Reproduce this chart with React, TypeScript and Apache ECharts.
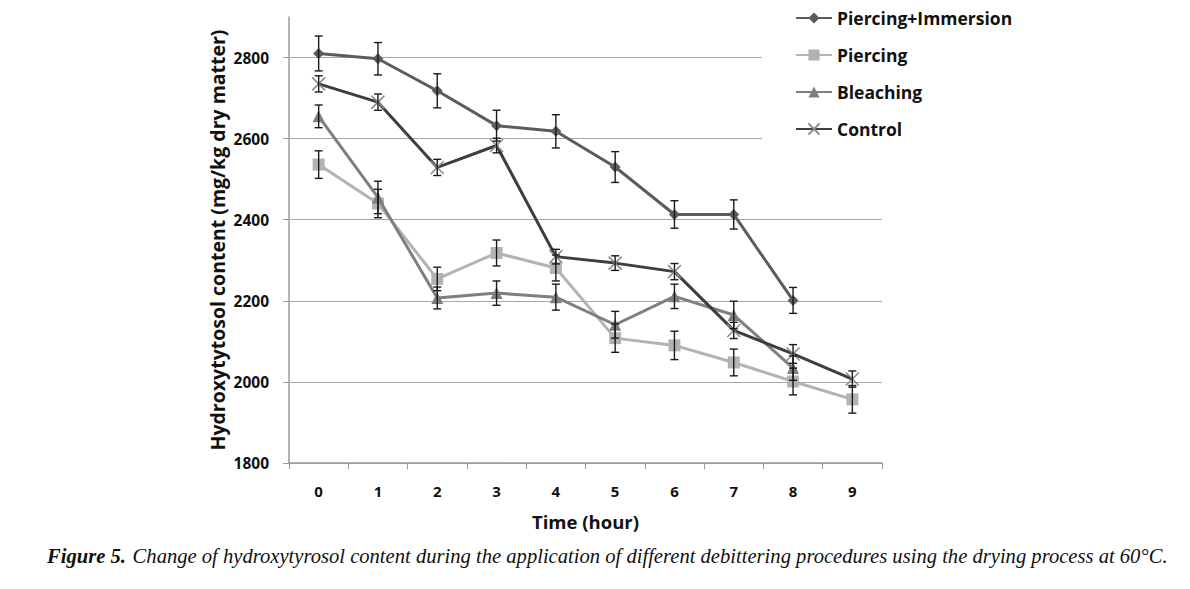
import React, { useEffect, useRef } from "react";
import * as echarts from "echarts";

const hours = ["0", "1", "2", "3", "4", "5", "6", "7", "8", "9"];
const yTicks = [1800, 2000, 2200, 2400, 2600, 2800];

const piercingImmersion = [2810, 2797, 2718, 2632, 2618, 2530, 2413, 2413, 2201, null];
const piercingImmersionErr = [43, 40, 42, 38, 41, 38, 34, 36, 32, null];

const piercing = [2536, 2440, 2254, 2318, 2281, 2108, 2090, 2048, 2001, 1957];
const piercingErr = [34, 35, 29, 32, 32, 35, 35, 33, 33, 34];

const bleaching = [2655, 2455, 2207, 2219, 2209, 2141, 2211, 2165, 2034, null];
const bleachingErr = [28, 40, 27, 30, 32, 33, 30, 34, 30, null];

const control = [2735, 2690, 2529, 2583, 2309, 2293, 2272, 2127, 2069, 2007];
const controlErr = [20, 20, 20, 18, 18, 18, 20, 20, 23, 20];

const seriesNames = ["Piercing+Immersion", "Piercing", "Bleaching", "Control"];

const FONT = "Open Sans";

function errData(vals: (number | null)[], errs: (number | null)[]) {
  const out: any[] = [];
  vals.forEach((v, i) => {
    if (v != null && errs[i] != null) out.push([i, v, errs[i]]);
  });
  return out;
}

function errSeries(name: string, vals: (number | null)[], errs: (number | null)[]) {
  return {
    type: "custom",
    name: name + " err",
    z: 5,
    silent: true,
    encode: { x: 0, y: 1 },
    data: errData(vals, errs),
    renderItem: (params: any, api: any) => {
      const x = api.value(0);
      const y = api.value(1);
      const e = api.value(2);
      const top = api.coord([x, y + e]);
      const bot = api.coord([x, y - e]);
      const hw = 4;
      const st = { stroke: "#1a1a1a", lineWidth: 1.4 };
      return {
        type: "group",
        children: [
          { type: "line", shape: { x1: top[0], y1: top[1], x2: bot[0], y2: bot[1] }, style: st },
          { type: "line", shape: { x1: top[0] - hw, y1: top[1], x2: top[0] + hw, y2: top[1] }, style: st },
          { type: "line", shape: { x1: bot[0] - hw, y1: bot[1], x2: bot[0] + hw, y2: bot[1] }, style: st },
        ],
      };
    },
  };
}

export default function App() {
  const ref = useRef<HTMLDivElement>(null);
  useEffect(() => {
    const chart = echarts.init(ref.current!, null, { renderer: "svg" });
    const labelStyle = { fontFamily: FONT, fontWeight: "bold" as const, color: "#111" };
    chart.setOption({
      animation: false,
      backgroundColor: "#fff",
      grid: { left: 289, right: 308, top: 17, bottom: 126 },
      legend: {
        data: seriesNames,
        orient: "vertical",
        left: 762,
        top: 0,
        padding: [9, 20, 12, 33],
        itemGap: 19,
        itemWidth: 36,
        itemHeight: 14,
        backgroundColor: "#fff",
        textStyle: { ...labelStyle, fontSize: 17.5, color: "#111" },
      },
      xAxis: {
        type: "category",
        data: hours,
        boundaryGap: true,
        name: "Time (hour)",
        nameLocation: "middle",
        nameGap: 49,
        nameTextStyle: { ...labelStyle, fontSize: 18.5 },
        axisLine: { lineStyle: { color: "#9a9a9a", width: 1.5 } },
        axisTick: { show: true, length: 6, lineStyle: { color: "#9a9a9a" } },
        axisLabel: { ...labelStyle, fontSize: 15, margin: 20 },
        splitLine: { show: false },
      },
      yAxis: {
        type: "value",
        min: 1800,
        max: 2900,
        interval: 200,
        name: "Hydroxytytosol content (mg/kg dry matter)",
        nameLocation: "middle",
        nameGap: 62,
        nameTextStyle: { ...labelStyle, fontSize: 19.5 },
        axisLine: { show: true, lineStyle: { color: "#9a9a9a", width: 1.5 } },
        axisTick: { show: true, length: 6, lineStyle: { color: "#9a9a9a" }, customValues: yTicks },
        axisLabel: {
          ...labelStyle,
          fontSize: 15.5,
          margin: 20,
          customValues: yTicks,
          formatter: (v: number) => String(v),
        },
        splitLine: { show: true, lineStyle: { color: "#a8a8a8", width: 1.2 } },
      },
      series: [
        {
          name: "Piercing+Immersion",
          type: "line",
          data: piercingImmersion,
          symbol: "diamond",
          symbolSize: 11,
          color: "#5c5c5c",
          lineStyle: { width: 3, color: "#5c5c5c" },
          itemStyle: { color: "#5c5c5c" },
          z: 4,
        },
        {
          name: "Piercing",
          type: "line",
          data: piercing,
          symbol: "rect",
          symbolSize: 12,
          color: "#b3b3b3",
          lineStyle: { width: 3, color: "#b3b3b3" },
          itemStyle: { color: "#b3b3b3" },
          z: 2,
        },
        {
          name: "Bleaching",
          type: "line",
          data: bleaching,
          symbol: "triangle",
          symbolSize: 12,
          color: "#7f7f7f",
          lineStyle: { width: 3, color: "#7f7f7f" },
          itemStyle: { color: "#7f7f7f" },
          z: 3,
        },
        {
          name: "Control",
          type: "line",
          data: control,
          symbol: "path://M0,0L10,10M10,0L0,10",
          symbolSize: 13,
          color: "#3e3e3e",
          lineStyle: { width: 3, color: "#3e3e3e" },
          itemStyle: { color: "rgba(0,0,0,0)", borderColor: "#8a8a8a", borderWidth: 1.5 },
          z: 3,
        },
        errSeries("Piercing+Immersion", piercingImmersion, piercingImmersionErr),
        errSeries("Piercing", piercing, piercingErr),
        errSeries("Bleaching", bleaching, bleachingErr),
        errSeries("Control", control, controlErr),
      ],
      graphic: [
        {
          type: "text",
          left: 47,
          top: 545,
          style: {
            text: "{b|Figure 5.}  {i|Change of hydroxytyrosol content during the application of different debittering procedures using the drying process at 60°C.}",
            rich: {
              b: { fontFamily: "Liberation Serif", fontStyle: "italic", fontWeight: "bold", fontSize: 20.6, fill: "#111" },
              i: { fontFamily: "Liberation Serif", fontStyle: "italic", fontSize: 20.6, fill: "#111" },
            },
          },
        },
      ],
    });
    return () => chart.dispose();
  }, []);
  return (
    <div
      ref={ref}
      style={{ position: "fixed", left: 0, top: 0, width: 1190, height: 589 }}
    />
  );
}
